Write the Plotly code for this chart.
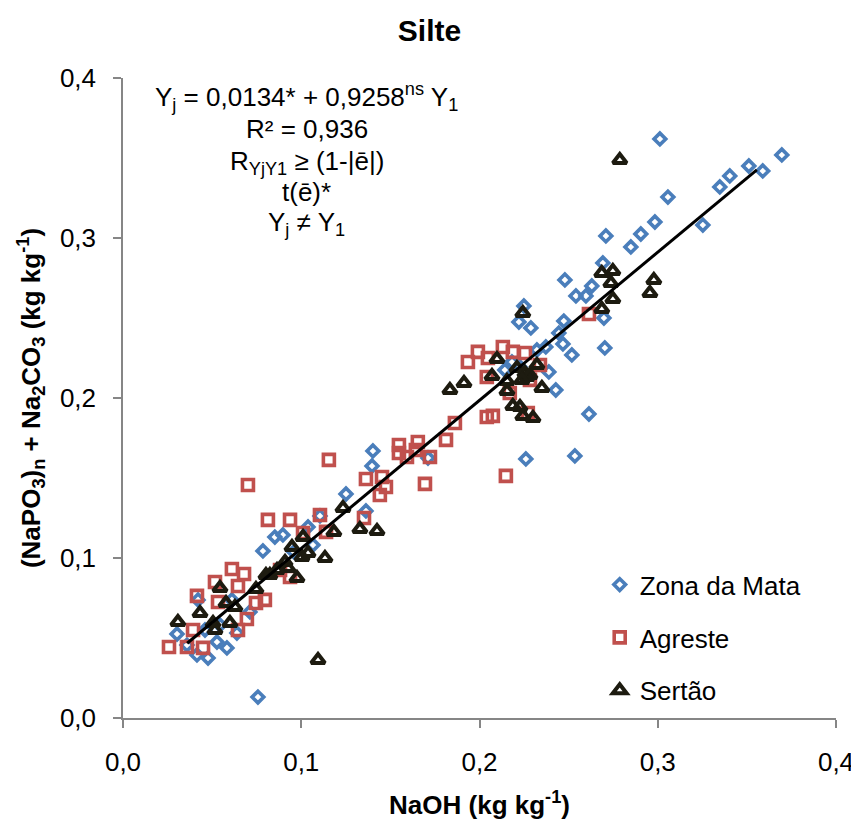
import plotly.graph_objects as go

# ---------------- data ----------------
zm_x = [0.0303, 0.0359, 0.0415, 0.0477, 0.0527, 0.0583, 0.0639, 0.0757, 0.0421, 0.0611,
        0.0460, 0.0544, 0.0712, 0.0785, 0.0852, 0.0897, 0.1066, 0.1038, 0.1105, 0.0959,
        0.1251, 0.1363, 0.1402, 0.1397, 0.1711, 0.2182, 0.2142, 0.2227, 0.2249, 0.2221,
        0.2288, 0.2322, 0.2372, 0.2260, 0.2445, 0.2468, 0.2518, 0.2389, 0.2428, 0.2614,
        0.2535, 0.2473, 0.2479, 0.2541, 0.2597, 0.2630, 0.2692, 0.2698, 0.2703, 0.2709,
        0.2849, 0.2905, 0.2984, 0.3012, 0.3057, 0.3253, 0.3348, 0.3404, 0.3511, 0.3589,
        0.3696]
zm_y = [0.0525, 0.0456, 0.0394, 0.0375, 0.0475, 0.0438, 0.0531, 0.0131, 0.0738, 0.0738,
        0.0550, 0.0581, 0.0663, 0.1044, 0.1131, 0.1144, 0.1081, 0.1194, 0.1263, 0.1038,
        0.1400, 0.1294, 0.1669, 0.1575, 0.1625, 0.2225, 0.2175, 0.2194, 0.2575, 0.2475,
        0.2438, 0.2300, 0.2319, 0.1619, 0.2406, 0.2338, 0.2269, 0.2163, 0.2050, 0.1900,
        0.1638, 0.2481, 0.2738, 0.2638, 0.2638, 0.2700, 0.2844, 0.2500, 0.2313, 0.3013,
        0.2944, 0.3025, 0.3100, 0.3619, 0.3256, 0.3081, 0.3319, 0.3388, 0.3450, 0.3419,
        0.3519]

ag_x = [0.0258, 0.0359, 0.0393, 0.0449, 0.0415, 0.0516, 0.0533, 0.0611, 0.0645, 0.0645,
        0.0679, 0.0695, 0.0701, 0.0746, 0.0796, 0.0813, 0.0881, 0.0937, 0.0937, 0.1010,
        0.1105, 0.1139, 0.1155, 0.1352, 0.1363, 0.1441, 0.1453, 0.1475, 0.1548, 0.1548,
        0.1593, 0.1643, 0.1654, 0.1694, 0.1722, 0.1812, 0.1862, 0.1935, 0.1991, 0.2041,
        0.2041, 0.2047, 0.2075, 0.2131, 0.2148, 0.2170, 0.2187, 0.2255, 0.2271, 0.2283,
        0.2339, 0.2614]
ag_y = [0.0444, 0.0444, 0.0550, 0.0438, 0.0763, 0.0850, 0.0725, 0.0931, 0.0825, 0.0550,
        0.0900, 0.0619, 0.1456, 0.0719, 0.0738, 0.1238, 0.0925, 0.0881, 0.1238, 0.1156,
        0.1269, 0.1163, 0.1613, 0.1250, 0.1494, 0.1394, 0.1506, 0.1444, 0.1706, 0.1656,
        0.1631, 0.1675, 0.1725, 0.1463, 0.1631, 0.1738, 0.1844, 0.2225, 0.2288, 0.2131,
        0.1881, 0.2250, 0.1888, 0.2319, 0.1513, 0.2031, 0.2288, 0.2281, 0.1906, 0.2113,
        0.2206, 0.2525]

se_x = [0.0308, 0.0432, 0.0544, 0.0578, 0.0628, 0.0505, 0.0516, 0.0600, 0.0746, 0.0802,
        0.0824, 0.0864, 0.0909, 0.0925, 0.0948, 0.0976, 0.1004, 0.1010, 0.1038, 0.1133,
        0.1094, 0.1234, 0.1183, 0.1329, 0.1425, 0.1834, 0.1913, 0.2243, 0.2098, 0.2070,
        0.2154, 0.2154, 0.2210, 0.2255, 0.2266, 0.2283, 0.2238, 0.2322, 0.2350, 0.2187,
        0.2227, 0.2243, 0.2300, 0.2686, 0.2748, 0.2737, 0.2748, 0.2686, 0.2978, 0.2956,
        0.2787]
se_y = [0.0600, 0.0656, 0.0813, 0.0719, 0.0694, 0.0594, 0.0550, 0.0594, 0.0806, 0.0894,
        0.0894, 0.0925, 0.0975, 0.0938, 0.1069, 0.0875, 0.1006, 0.1131, 0.1031, 0.1000,
        0.0363, 0.1313, 0.1163, 0.1181, 0.1169, 0.2050, 0.2094, 0.2531, 0.2244, 0.2138,
        0.2106, 0.2044, 0.2188, 0.2156, 0.2131, 0.2144, 0.2113, 0.2206, 0.2063, 0.1950,
        0.1944, 0.1888, 0.1875, 0.2781, 0.2794, 0.2719, 0.2619, 0.2556, 0.2738, 0.2656,
        0.3488]

series_names = ["Zona da Mata", "Agreste", "Sertão"]
fit_intercept = 0.0134
fit_slope = 0.9258
fit_x_range = [0.036, 0.3556]
tick_vals = [0.0, 0.1, 0.2, 0.3, 0.4]

eq_lines = [
    "Y<sub>j</sub> = 0,0134* + 0,9258<sup>ns</sup> Y<sub>1</sub>",
    "R² = 0,936",
    "R<sub>YjY1</sub> ≥ (1-|ē|)",
    "t(ē)*",
    "Y<sub>j</sub> ≠ Y<sub>1</sub>",
]
eq_x = 0.1032
eq_y = [0.388, 0.368, 0.3475, 0.329, 0.309]

# ---------------- figure ----------------
FONT = "Arial, 'Liberation Sans', sans-serif"
fig = go.Figure()

fig.add_trace(go.Scatter(
    x=zm_x, y=zm_y, mode="markers", name=series_names[0], legendgroup="a",
    marker=dict(symbol="diamond-open", size=9, color="#4A7EBB",
                line=dict(width=3.6, color="#4A7EBB"))))
fig.add_trace(go.Scatter(
    x=ag_x, y=ag_y, mode="markers", name=series_names[1], legendgroup="b",
    marker=dict(symbol="square-open", size=11, color="#C0504D",
                line=dict(width=3.6, color="#C0504D"))))
fig.add_trace(go.Scatter(
    x=se_x, y=se_y, mode="markers", name=series_names[2], legendgroup="c",
    marker=dict(symbol="triangle-up-open", size=12, color="#1D1B10",
                line=dict(width=4, color="#1D1B10"))))

fit_y = [fit_intercept + fit_slope * v for v in fit_x_range]
fig.add_trace(go.Scatter(
    x=fit_x_range, y=fit_y, mode="lines", showlegend=False,
    line=dict(color="black", width=3)))

axis_common = dict(
    range=[0, 0.4], tickvals=tick_vals, tickformat=".1f",
    showgrid=False, zeroline=False, showline=True, automargin=False,
    linecolor="#868686", linewidth=1.5,
    ticks="outside", ticklen=8, tickwidth=1.5, tickcolor="#868686",
    ticklabelstandoff=12,
    tickfont=dict(family=FONT, size=26, color="black"),
)

# page body adds an 8px offset; figure is sized so the plot lands as in the reference
fig.update_layout(
    width=851, height=819,
    margin=dict(l=115, r=23, t=70, b=109),
    paper_bgcolor="white", plot_bgcolor="white",
    separators=",.",
    font=dict(family=FONT, color="black"),
    title=dict(text="<b>Silte</b>", x=0.5 - 4 / 851, xref="container", xanchor="center",
               y=1 - 22 / 819, yref="container", yanchor="middle",
               font=dict(family=FONT, size=30, color="black")),
    xaxis=dict(**axis_common,
               title=dict(text="<b>NaOH (kg kg<sup>-1</sup>)</b>", standoff=20,
                          font=dict(family=FONT, size=26, color="black"))),
    yaxis=dict(**axis_common,
               title=dict(text="<b>(NaPO<sub>3</sub>)<sub>n</sub> + Na<sub>2</sub>CO<sub>3</sub> (kg kg<sup>-1</sup>)</b>",
                          standoff=12,
                          font=dict(family=FONT, size=26, color="black"))),
    legend=dict(x=0.6686, y=0.245, xanchor="left", yanchor="top",
                bgcolor="rgba(0,0,0,0)", font=dict(family=FONT, size=26, color="black"),
                tracegroupgap=16, itemwidth=30),
    showlegend=True,
)

for txt, yy in zip(eq_lines, eq_y):
    fig.add_annotation(x=eq_x, y=yy, xref="x", yref="y", text=txt, showarrow=False,
                       xanchor="center", yanchor="middle",
                       font=dict(family=FONT, size=26, color="black"))

fig.write_html("out.html")
